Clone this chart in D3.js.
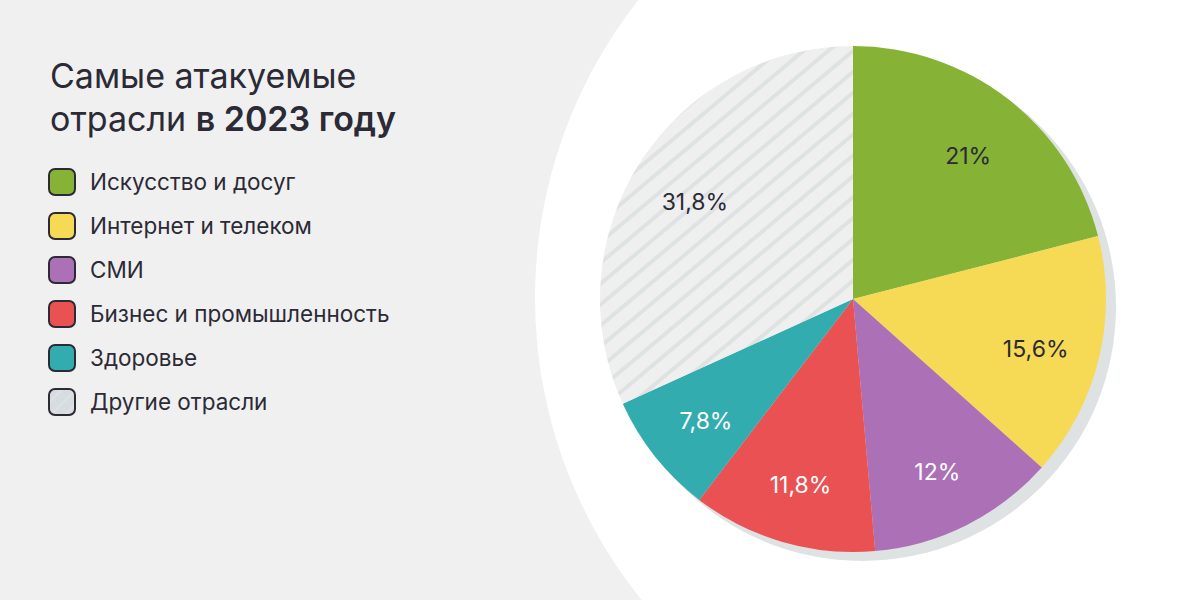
<!DOCTYPE html>
<html>
<head>
<meta charset="utf-8">
<script src="https://cdn.jsdelivr.net/npm/d3@7"></script>
<style>
  html, body { margin: 0; padding: 0; background: #f0f0f0; }
  svg { display: block; }
</style>
</head>
<body>
<div id="chart"></div>
<script>
// Data
const categories = ['Искусство и досуг', 'Интернет и телеком', 'СМИ', 'Бизнес и промышленность', 'Здоровье', 'Другие отрасли'];
const values = [21, 15.6, 12, 11.8, 7.8, 31.8];
const labels = ['21%', '15,6%', '12%', '11,8%', '7,8%', '31,8%'];
const colors = ['#86b336', '#f6da55', '#ab70b6', '#e95153', '#33acb0', 'url(#hatch)'];
const labelColors = ['#2b2a35', '#2b2a35', '#ffffff', '#ffffff', '#ffffff', '#2b2a35'];

const width = 1200;
const height = 600;
const font = 'Inter, "Noto Sans", sans-serif';

const svg = d3.select('#chart')
  .append('svg')
  .attr('width', width)
  .attr('height', height);

// hatch pattern for "other"
const defs = svg.append('defs');
const pat = defs.append('pattern')
  .attr('id', 'hatch')
  .attr('patternUnits', 'userSpaceOnUse')
  .attr('width', 16)
  .attr('height', 16)
  .attr('patternTransform', 'rotate(-40)');
pat.append('rect').attr('width', 16).attr('height', 16).attr('fill', '#efefef');
pat.append('rect').attr('y', 0).attr('width', 16).attr('height', 4).attr('fill', '#dfe2e3');

const smallPat = defs.append('pattern')
  .attr('id', 'hatchSmall')
  .attr('patternUnits', 'userSpaceOnUse')
  .attr('width', 10)
  .attr('height', 10)
  .attr('patternTransform', 'rotate(-45)');
smallPat.append('rect').attr('width', 10).attr('height', 10).attr('fill', '#d6dcdf');
smallPat.append('rect').attr('width', 10).attr('height', 2).attr('fill', '#dde2e4');

// background
svg.append('rect').attr('width', width).attr('height', height).attr('fill', '#f0f0f0');
svg.append('circle').attr('cx', 1016).attr('cy', 298).attr('r', 481).attr('fill', '#ffffff');

// pie
const cx = 853, cy = 299, radius = 253;

const pie = d3.pie().sort(null).value(d => d);
const arcs = pie(values);
const arc = d3.arc().innerRadius(0).outerRadius(radius);
const labelArc = d3.arc().innerRadius(188).outerRadius(188);

// shadow
svg.append('circle')
  .attr('cx', cx + 9)
  .attr('cy', cy + 8)
  .attr('r', radius + 1)
  .attr('fill', '#dfe2e3');

const g = svg.append('g').attr('transform', `translate(${cx},${cy})`);

g.selectAll('path')
  .data(arcs)
  .join('path')
  .attr('d', arc)
  .attr('fill', (d, i) => colors[i]);

g.selectAll('text')
  .data(arcs)
  .join('text')
  .attr('transform', d => {
    const [x, y] = labelArc.centroid(d);
    return `translate(${x},${y + 5})`;
  })
  .attr('text-anchor', 'middle')
  .attr('dy', '0.35em')
  .style('font-family', font)
  .style('font-size', '23px')
  .style('fill', (d, i) => labelColors[i])
  .text((d, i) => labels[i]);

// title
const title = svg.append('text')
  .attr('x', 50)
  .style('font-family', font)
  .style('font-size', '34px')
  .style('fill', '#2b2a35');
title.append('tspan').attr('x', 50).attr('y', 88).text('Самые атакуемые');
title.append('tspan').attr('x', 50).attr('y', 131).text('отрасли ');
title.append('tspan').style('font-weight', 600).text('в 2023 году');

// legend
const legend = svg.append('g')
  .selectAll('g')
  .data(categories)
  .join('g')
  .attr('transform', (d, i) => `translate(48, ${168 + i * 44})`);

legend.append('rect')
  .attr('x', 1)
  .attr('y', 1)
  .attr('width', 26)
  .attr('height', 26)
  .attr('rx', 6)
  .attr('fill', (d, i) => i === 5 ? 'url(#hatchSmall)' : colors[i])
  .attr('stroke', '#2b2a35')
  .attr('stroke-width', 2);

legend.append('text')
  .attr('x', 42)
  .attr('y', 14)
  .attr('dy', '0.35em')
  .style('font-family', font)
  .style('font-size', '22.5px')
  .style('fill', '#2b2a35')
  .text(d => d);
</script>
</body>
</html>
